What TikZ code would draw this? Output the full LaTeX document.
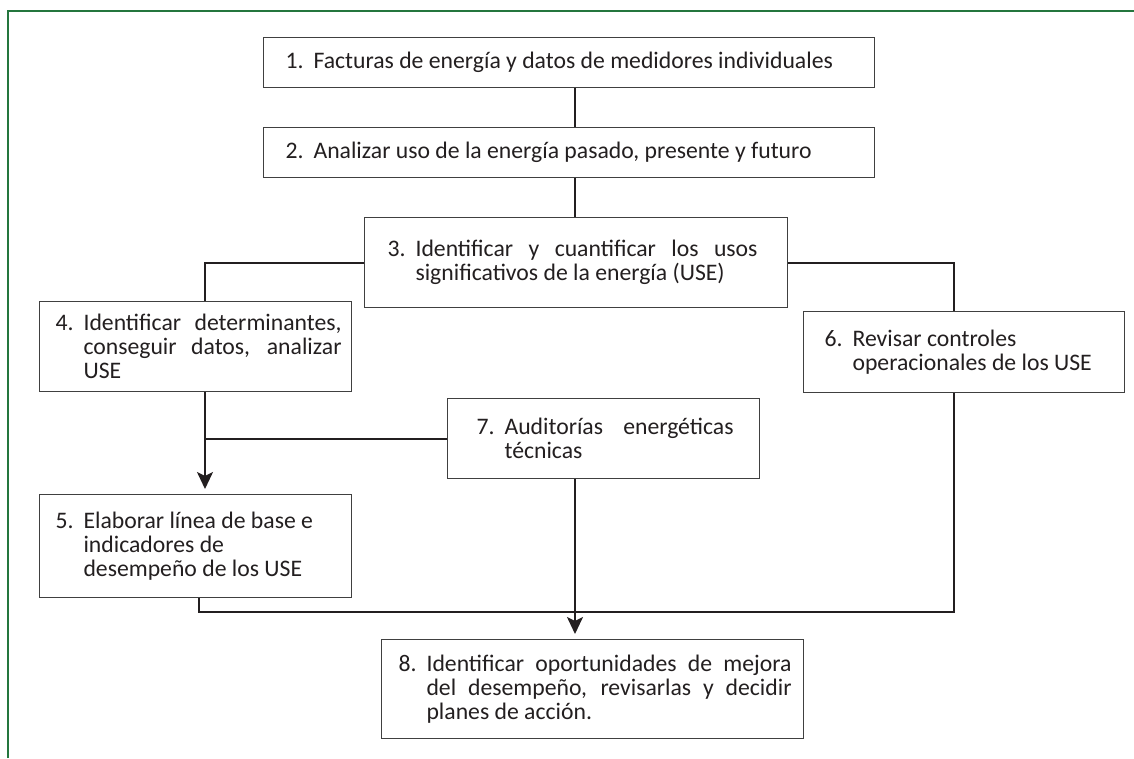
\documentclass[tikz,border=0pt]{standalone}
\usepackage{fontspec}
\setmainfont{Carlito}
\usetikzlibrary{arrows.meta}
\definecolor{myverde}{RGB}{36,118,62}
\definecolor{mytinta}{RGB}{35,31,32}
% номер шага с висячим отступом: #1 номер, #2 левое поле, #3 правое поле, #4 текст
\newcommand{\mypaso}[4]{\leftskip=#2pt\rightskip=#3pt\hangindent=28pt\hangafter=1\noindent\makebox[28pt][l]{#1.}#4\par}
\begin{document}
\begin{tikzpicture}[x=1pt, y=-1pt] % координаты в пикселях, y вниз
\tikzstyle{mybox} = [draw=black!75, line width=1.1pt, text=mytinta, fill=white, anchor=north west, inner sep=0pt, align=justify, font=\fontsize{23.7}{24}\selectfont] % блок шага
\tikzstyle{myline} = [draw=mytinta, line width=2pt] % соединительная линия
\tikzstyle{myarrow} = [myline, -{Stealth[length=17pt, width=16pt, inset=4pt]}, shorten >=5pt] % стрелка
\useasboundingbox (0,0) rectangle (1134,758);
\draw[myverde, line width=2.5pt] (8,758) -- (8,11) -- (1134,11); % рамка
% опорные линии для соединений
\coordinate (eje) at (575,0);
\coordinate (izq) at (205,0);
\coordinate (izqb) at (199,0);
\coordinate (der) at (954,0);
\coordinate (baja) at (0,612);
% шаги
\node[mybox, text width=611pt, minimum height=50pt] (p1) at (263,37) {\mypaso{1}{22}{10}{Facturas de energía y datos de medidores individuales}};
\node[mybox, text width=611pt, minimum height=50pt] (p2) at (263,127) {\mypaso{2}{22}{10}{Analizar uso de la energía pasado, presente y futuro}};
\node[mybox, text width=423pt, minimum height=90pt] (p3) at (364,217) {\mypaso{3}{23}{30}{Identificar y cuantificar los usos\linebreak significativos de la energía (USE)}};
\node[mybox, text width=312pt, minimum height=90pt] (p4) at (39,301) {\mypaso{4}{16}{10}{Identificar determinantes,\linebreak conseguir datos, analizar\linebreak USE}};
\node[mybox, text width=312pt, minimum height=103pt] (p5) at (39,494) {\mypaso{5}{16}{10}{Elaborar línea de base e\newline indicadores de\newline desempeño de los USE}};
\node[mybox, text width=321pt, minimum height=81pt] (p6) at (803,311) {\mypaso{6}{21}{10}{Revisar controles\newline operacionales de los USE}};
\node[mybox, text width=312pt, minimum height=80pt] (p7) at (447,398) {\mypaso{7}{29}{26}{Auditorías energéticas\linebreak técnicas}};
\node[mybox, text width=422pt, minimum height=99pt] (p8) at (381,639) {\mypaso{8}{17}{12}{Identificar oportunidades de mejora\linebreak del desempeño, revisarlas y decidir\linebreak planes de acción.}};
% соединения
\draw[myline] (p1.south -| eje) -- (p2.north -| eje);
\draw[myline] (p2.south -| eje) -- (p3.north -| eje);
\draw[myline] (p3.west) -| (p4.north -| izq);
\draw[myline] (p3.east) -| (p6.north -| der);
\draw[myarrow] (p4.south -| izq) -- (p5.north -| izq);
\draw[myline] (p7.west) -- (p7.west -| izq);
\draw[myline] (p5.south -| izqb) |- (baja -| der) -- (p6.south -| der);
\draw[myarrow] (p7.south -| eje) -- (p8.north -| eje);
\end{tikzpicture}
\end{document}
